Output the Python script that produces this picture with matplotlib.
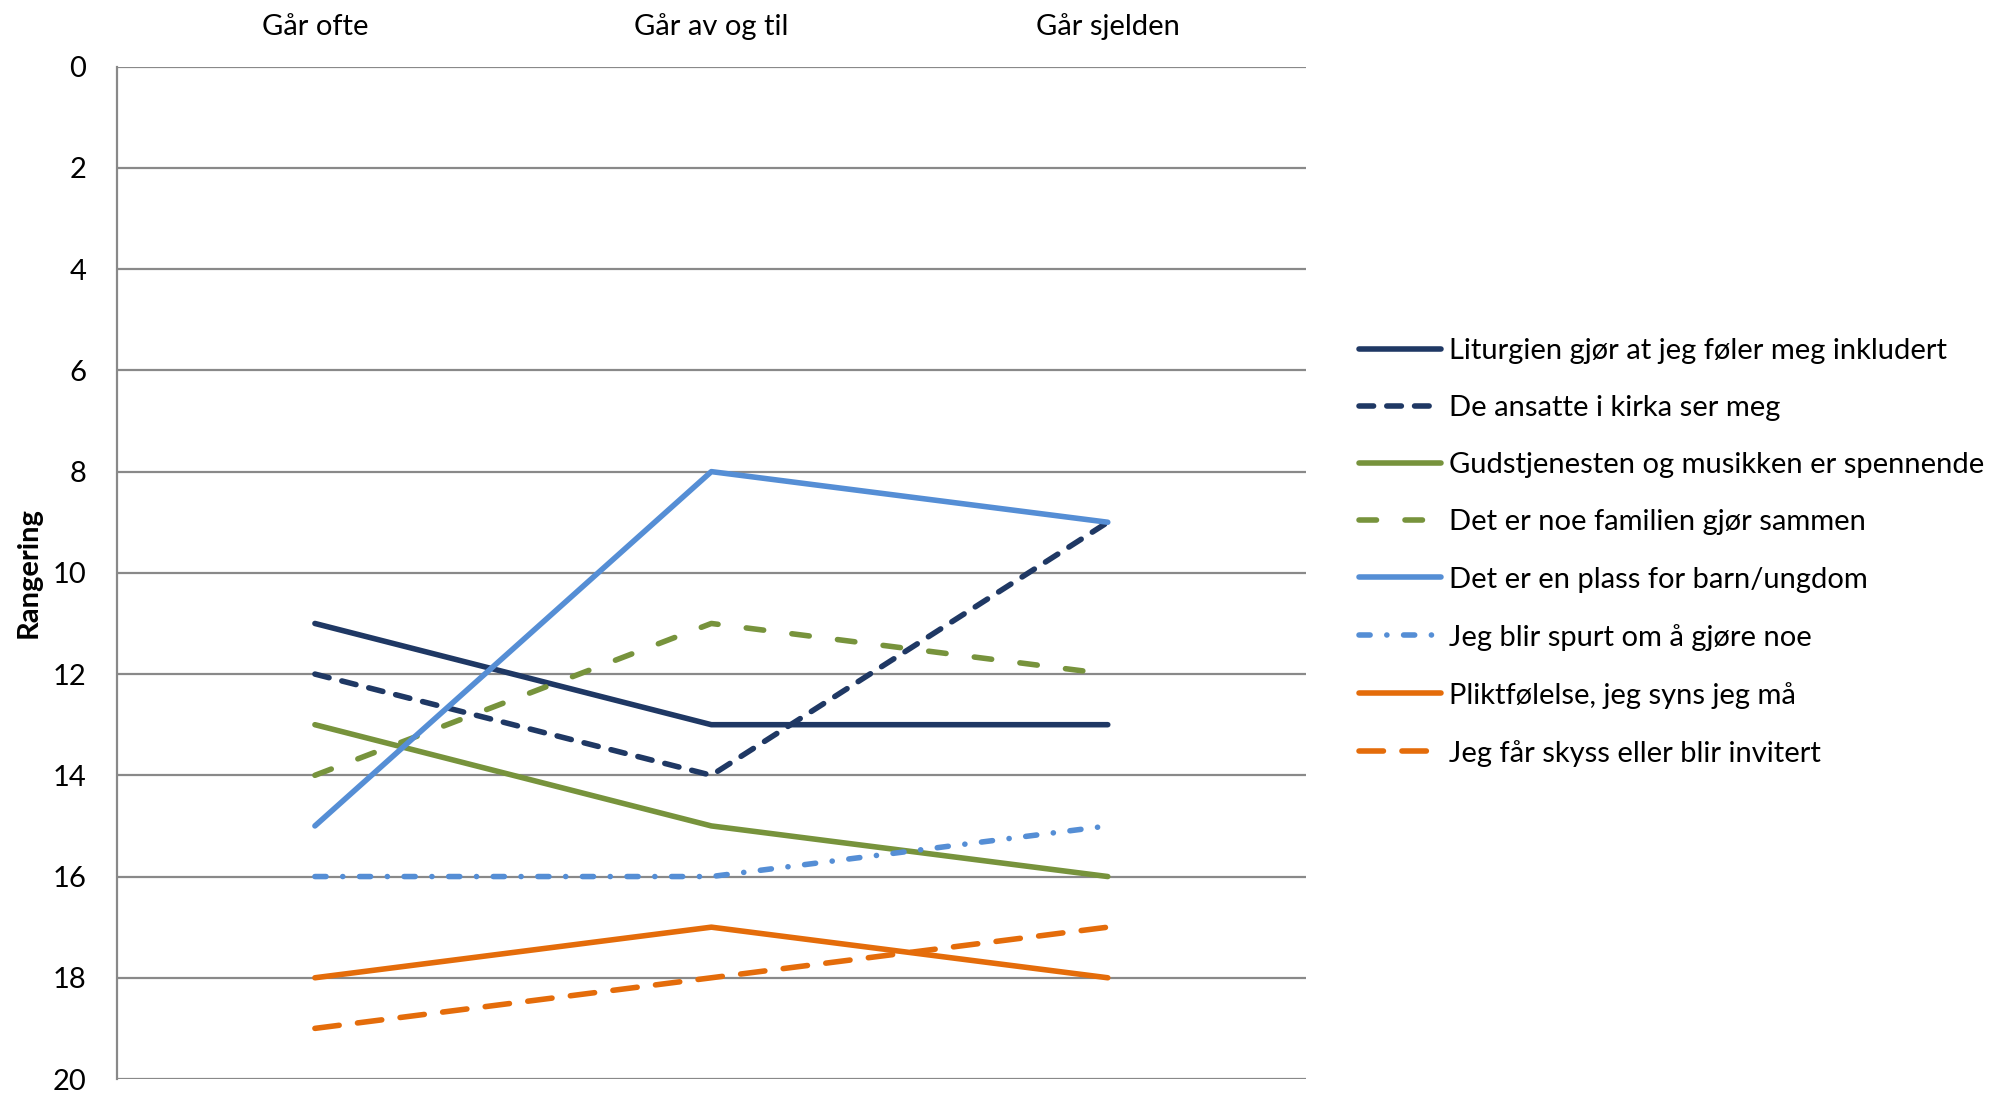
import matplotlib
matplotlib.use("Agg")
import matplotlib.pyplot as plt

plt.rcParams['font.family'] = ['Lato', 'DejaVu Sans']
plt.rcParams['lines.scale_dashes'] = False

categories = ["Går ofte", "Går av og til", "Går sjelden"]
series_names = [
    "Liturgien gjør at jeg føler meg inkludert",
    "De ansatte i kirka ser meg",
    "Gudstjenesten og musikken er spennende",
    "Det er noe familien gjør sammen",
    "Det er en plass for barn/ungdom",
    "Jeg blir spurt om å gjøre noe",
    "Pliktfølelse, jeg syns jeg må",
    "Jeg får skyss eller blir invitert",
]
liturgien = [11, 13, 13]
ansatte = [12, 14, 9]
gudstjenesten = [13, 15, 16]
familien = [14, 11, 12]
plass = [15, 8, 9]
spurt = [16, 16, 15]
plikt = [18, 17, 18]
skyss = [19, 18, 17]
values = [liturgien, ansatte, gudstjenesten, familien, plass, spurt, plikt, skyss]

navy = "#1F3864"
green = "#77933C"
blue = "#558ED5"
orange = "#E46C0A"
colors = [navy, navy, green, green, blue, blue, orange, orange]
styles = [None, (10.5, 9.5), None, (12.6, 20.5), None,
          (8.0, 12.0, 0.1, 12.0), None, (17.6, 13.3)]

W, H = 2011, 1093
L, R, T, B = 116.7, 1306, 66.7, 1079
fig = plt.figure(figsize=(W/100, H/100), dpi=100)
ax = fig.add_axes([L/W, 1-B/H, (R-L)/W, (B-T)/H])

x = list(range(len(categories)))
lw = 4.0
for name, vals, c, st in zip(series_names, values, colors, styles):
    if st is None:
        ax.plot(x, vals, color=c, lw=lw, label=name, solid_capstyle='round',
                solid_joinstyle='round')
    else:
        ax.plot(x, vals, color=c, lw=lw, label=name, dashes=st,
                dash_capstyle='round', dash_joinstyle='round')

ax.set_xlim(-0.5, 2.5)
ax.set_ylim(20, 0)
ax.set_yticks(range(0, 21, 2))
ax.set_xticks(x)
ax.set_xticklabels(categories)
ax.xaxis.tick_top()
ax.tick_params(axis='both', length=0, labelsize=21)
ax.tick_params(axis='x', pad=19)
ax.tick_params(axis='y', pad=22)
ax.grid(axis='y', color='#898989', lw=1.6)
ax.set_axisbelow(True)
for s in ['top', 'right', 'bottom']:
    ax.spines[s].set_visible(False)
ax.spines['left'].set_color('#898989')
ax.spines['left'].set_linewidth(1.6)
fig.text(29/W, 1-573/H, "Rangering", rotation=90, fontsize=21, fontweight='bold',
         ha='center', va='center')

leg = fig.legend(loc='center left', bbox_to_anchor=(1359/W, 1-552.5/H),
                 frameon=False, fontsize=21, handlelength=2.8, handletextpad=0.3,
                 labelspacing=1.065, borderaxespad=0, borderpad=0)

fig.savefig("out.png", dpi=100)
